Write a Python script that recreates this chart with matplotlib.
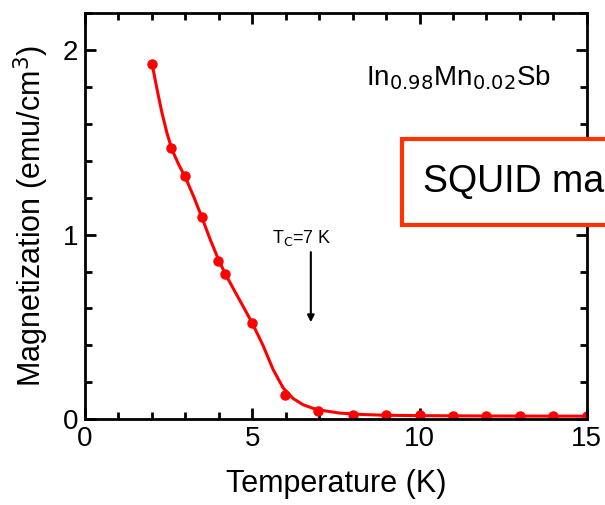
import matplotlib.pyplot as plt
from matplotlib.patches import Rectangle
from matplotlib.ticker import MultipleLocator

plt.rcParams['font.family'] = ['Liberation Sans', 'DejaVu Sans']

# measured points
temp = [2.0, 2.57, 2.99, 3.49, 3.97, 4.18, 5.0, 5.97, 6.96, 8, 9, 10, 11, 12, 13, 14, 15]
magn = [1.924, 1.467, 1.315, 1.098, 0.859, 0.788, 0.522, 0.13, 0.043,
        0.022, 0.02, 0.02, 0.015, 0.016, 0.015, 0.015, 0.015]

# fitted curve
fit_t = [2.0, 2.15, 2.3, 2.45, 2.6, 2.8, 3.0, 3.25, 3.5, 3.75, 4.0, 4.2, 4.5, 4.75, 5.0,
         5.32, 5.62, 5.92, 6.22, 6.52, 6.92, 7.61, 8.31, 9.0, 10.0, 12.0, 15.0]
fit_m = [1.93, 1.79, 1.66, 1.55, 1.46, 1.38, 1.31, 1.205, 1.09, 0.97, 0.86, 0.785, 0.685,
         0.603, 0.52, 0.40, 0.27, 0.17, 0.112, 0.078, 0.052, 0.033, 0.025, 0.021, 0.019,
         0.017, 0.016]

red = '#ff0000'

fig = plt.figure(figsize=(6.05, 5.05), dpi=100)
ax = fig.add_axes([0.1405, 0.170, 0.8295, 0.804])

ax.plot(fit_t, fit_m, color=red, lw=2.2)
ax.plot(temp, magn, 'o', color=red, ms=6.5)

ax.set_xlim(0, 15)
ax.set_ylim(0, 2.2)
ax.xaxis.set_major_locator(MultipleLocator(5))
ax.xaxis.set_minor_locator(MultipleLocator(1))
ax.yaxis.set_major_locator(MultipleLocator(1))
ax.yaxis.set_minor_locator(MultipleLocator(0.2))
ax.tick_params(which='both', direction='in', top=True, right=True, width=2, labelsize=20)
ax.tick_params(which='major', length=8, pad=5)
ax.tick_params(which='minor', length=5)
for s in ax.spines.values():
    s.set_linewidth(2)

ax.set_xlabel('Temperature (K)', fontsize=22, labelpad=12)
ax.set_ylabel('Magnetization (emu/cm$^3$)', fontsize=22, labelpad=8)

ax.text(8.4, 1.85, 'In$_{0.98}$Mn$_{0.02}$Sb', fontsize=20, va='center')

ax.text(5.6, 0.98, 'T$_{\\mathrm{C}}$=7 K', fontsize=13, va='center')
ax.annotate('', xy=(6.75, 0.51), xytext=(6.75, 0.92),
            arrowprops=dict(arrowstyle='-|>', color='black', lw=1.5, mutation_scale=10))

# overlay label box, cut off by the figure edge as in the original slide
fig.patches.append(Rectangle((402 / 605, 1 - 225 / 505), 0.4, 86 / 505,
                             transform=fig.transFigure, facecolor='white',
                             edgecolor='#ff3300', lw=3, zorder=5))
fig.text(423 / 605, 1 - 182 / 505, 'SQUID magnetometry', fontsize=27,
         va='center', ha='left', zorder=6)

fig.savefig('out.png', dpi=100)
